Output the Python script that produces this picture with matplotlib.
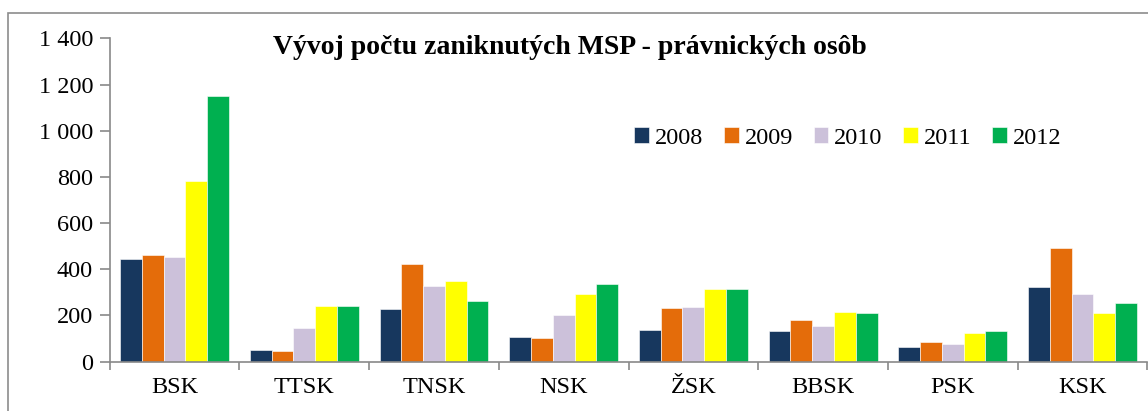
import numpy as np
import matplotlib
matplotlib.use('Agg')
from matplotlib import pyplot as plt
from matplotlib.patches import Rectangle
from matplotlib.ticker import FuncFormatter

# data
regions = ['BSK', 'TTSK', 'TNSK', 'NSK', 'ŽSK', 'BBSK', 'PSK', 'KSK']
years = ['2008', '2009', '2010', '2011', '2012']
v2008 = [444, 51, 227, 108, 137, 132, 64, 322]
v2009 = [460, 48, 424, 104, 231, 179, 84, 490]
v2010 = [454, 145, 328, 201, 236, 155, 75, 293]
v2011 = [782, 241, 348, 291, 314, 215, 126, 210]
v2012 = [1152, 241, 263, 338, 314, 210, 134, 253]
colors = ['#17375E', '#E46C0A', '#CCC1DA', '#FFFF00', '#00B050']

plt.rcParams['font.family'] = ['Liberation Serif', 'DejaVu Serif']
plt.rcParams['font.size'] = 17.5

fig = plt.figure(figsize=(11.48, 4.11), dpi=100)
ax = fig.add_axes([0.0956, 0.12, 0.9038, 0.7868])

series = [v2008, v2009, v2010, v2011, v2012]
x = np.arange(len(regions))
w = 0.168
for i, (vals, c, lab) in enumerate(zip(series, colors, years)):
    ax.bar(x + (i - 2) * w, vals, width=w, color=c, label=lab,
           edgecolor='white', linewidth=0.4)

ax.set_xlim(-0.5, len(regions) - 0.5)
ax.set_ylim(0, 1400)
ax.set_yticks(np.arange(0, 1401, 200))
ax.yaxis.set_major_formatter(FuncFormatter(lambda v, p: '{:,}'.format(int(v)).replace(',', ' ')))

# ticks between categories, labels at centres
ax.set_xticks(np.arange(-0.5, len(regions), 1.0))
ax.set_xticklabels([])
ax.set_xticks(x, minor=True)
ax.set_xticklabels(regions, minor=True)
ax.tick_params(axis='x', which='minor', length=0, pad=11)
ax.tick_params(axis='x', which='major', length=6, color='#898989', width=1.2)
ax.tick_params(axis='y', length=7, color='#898989', width=1.2, pad=5)

for s in ['top', 'right']:
    ax.spines[s].set_visible(False)
for s in ['left', 'bottom']:
    ax.spines[s].set_color('#898989')
    ax.spines[s].set_linewidth(1.2)

fig.text(570 / 1148, 1 - 47 / 411, 'Vývoj počtu zaniknutých MSP - právnických osôb',
         ha='center', va='center', fontsize=20, fontweight='bold')

fig.legend(loc='center', bbox_to_anchor=(848 / 1148, 1 - 138 / 411), ncol=5,
           frameon=False, handlelength=0.6, handleheight=0.6, handletextpad=0.25,
           columnspacing=0.85, fontsize=17.5)

# outer chart border (runs off the right and bottom edge)
fig.patches.append(Rectangle((8 / 1148, -0.1), 1.1, 1.1 - 13.5 / 411,
                             transform=fig.transFigure, fill=False,
                             edgecolor='#8c8c8c', linewidth=1.2))

fig.savefig('out.png', dpi=100)
